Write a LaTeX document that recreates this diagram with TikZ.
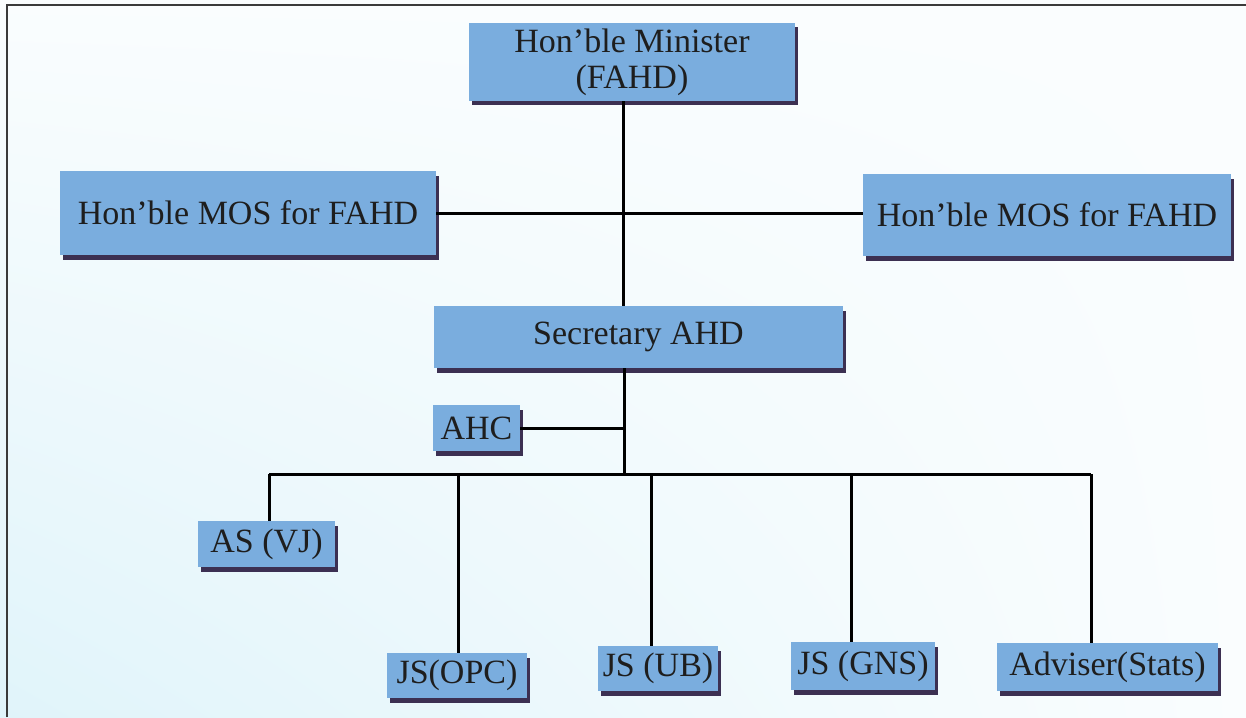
\documentclass[tikz,border=0pt]{standalone}
\usepackage{fontspec}
\setmainfont{Liberation Serif}
\usetikzlibrary{shadows,shadings}
\definecolor{boxc}{HTML}{7AADDE}
\definecolor{shadc}{HTML}{3C3052}
\definecolor{txtc}{HTML}{1E1E1E}
\definecolor{bgw}{HTML}{FAFDFE}
\definecolor{bgc}{HTML}{E0F4FA}
\definecolor{framec}{HTML}{3A3A3A}
\begin{document}
\begin{tikzpicture}[x=0.5pt,y=-0.5pt,
  box/.style={fill=boxc, draw=none, text=txtc, inner sep=0pt, align=center,
    font=\fontsize{17}{18}\selectfont,
    drop shadow={shadow xshift=1.5pt, shadow yshift=-2.25pt, fill=shadc, opacity=1}},
  conn/.style={line width=1.5pt, draw=black}]
\useasboundingbox (0,0) rectangle (1246,717);
\shade[upper left=bgw, upper right=bgw, lower left=bgc, lower right=bgw] (0,0) rectangle (1246,717);
\draw[framec, line width=1pt] (7,717) -- (7,5) -- (1246,5);

\node[box, minimum width=163pt, minimum height=39pt] (min) at (632,62) {Hon’ble Minister\\(FAHD)};
\node[box, minimum width=188pt, minimum height=42pt] (mosL) at (248,213) {Hon’ble MOS for FAHD};
\node[box, minimum width=184pt, minimum height=41pt] (mosR) at (1047,215) {Hon’ble MOS for FAHD};
\node[box, minimum width=204.5pt, minimum height=31pt] (sec) at (638.5,337) {Secretary AHD};
\node[box, minimum width=43.5pt, minimum height=23pt] (ahc) at (476.5,428) {AHC};
\node[box, minimum width=68.5pt, minimum height=23pt] (as) at (266.5,544) {AS (VJ)};
\node[box, minimum width=70pt, minimum height=22.5pt] (opc) at (457,675.5) {JS(OPC)};
\node[box, minimum width=60pt, minimum height=22.5pt] (ub) at (658,668.5) {JS (UB)};
\node[box, minimum width=72pt, minimum height=24pt] (gns) at (863,666) {JS (GNS)};
\node[box, minimum width=110.5pt, minimum height=24pt] (adv) at (1107.5,667) {Adviser(Stats)};

\coordinate (t1) at (623,212);
\coordinate (t2) at (624,474);
\coordinate (d1) at (269,474);
\coordinate (d2) at (458,474);
\coordinate (d3) at (651,474);
\coordinate (d4) at (851,474);
\coordinate (d5) at (1091,474);

\draw[conn] (min.south -| t1) -- (sec.north -| t1);
\draw[conn] (mosL.east) -- (mosL.east -| mosR.west);
\draw[conn] (sec.south -| t2) -- (t2);
\draw[conn] (ahc.east) -- (ahc.east -| t2);
\draw[conn] (d1) -- (d5);
\draw[conn] (d1) -- (d1 |- as.north);
\draw[conn] (d2) -- (d2 |- opc.north);
\draw[conn] (d3) -- (d3 |- ub.north);
\draw[conn] (d4) -- (d4 |- gns.north);
\draw[conn] (d5) -- (d5 |- adv.north);
\end{tikzpicture}
\end{document}
